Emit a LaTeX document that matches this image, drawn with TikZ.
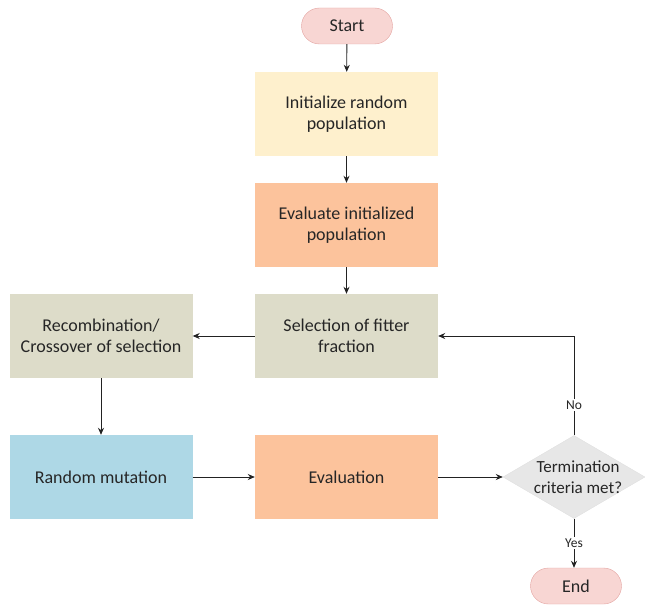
\documentclass[tikz,border=0pt]{standalone}
\usepackage{fontspec}
\setmainfont{Carlito}
\usetikzlibrary{shapes.geometric,shapes.misc,arrows.meta}
\definecolor{pinkfill}{HTML}{F8D6D3}
\definecolor{pinkline}{HTML}{E3A3A0}
\definecolor{yellowfill}{HTML}{FEF0CD}
\definecolor{orangefill}{HTML}{FCC39C}
\definecolor{khakifill}{HTML}{DDDCC9}
\definecolor{bluefill}{HTML}{AED8E6}
\definecolor{grayfill}{HTML}{E7E7E7}
\definecolor{linecol}{HTML}{222222}
\definecolor{textcol}{HTML}{262626}
\begin{document}
\begin{tikzpicture}[x=1pt,y=-1pt,
  every node/.style={font=\fontsize{18}{21.5}\selectfont, text=textcol},
  box/.style={rectangle, minimum width=183pt, minimum height=84pt, align=center, inner sep=0pt},
  term/.style={rounded rectangle, draw=pinkline, fill=pinkfill, minimum width=91pt, minimum height=36pt, inner sep=0pt},
  decision/.style={diamond, fill=grayfill, draw=white!88!black, minimum width=142pt, minimum height=83pt, inner sep=0pt},
  dtext/.style={align=center, font=\fontsize{17}{21}\selectfont, inner sep=0pt},
  conn/.style={draw=linecol, line width=0.8pt, -{Stealth[length=7pt,width=6pt]}},
  lbl/.style={fill=white, font=\fontsize{13.5}{16}\selectfont, inner sep=1.5pt}]
\useasboundingbox (0,0) rectangle (645,607);
\node[term] (start) at (347,26) {Start};
\node[box, fill=yellowfill] (init) at (346.5,114) {Initialize random\\population};
\node[box, fill=orangefill] (evalinit) at (346.5,225) {Evaluate initialized\\population};
\node[box, fill=khakifill] (select) at (346.5,336) {Selection of fitter\\fraction};
\node[box, fill=khakifill] (recomb) at (101,336) {Recombination/\\Crossover of selection};
\node[box, fill=bluefill] (mutate) at (101,477) {Random mutation};
\node[box, fill=orangefill] (evaluation) at (346.5,477) {Evaluation};
\node[decision] (term) at (574,477) {};
\node[dtext] (termtext) at (578,477) {Termination\\criteria met?};
\node[term] (end) at (576,586) {End};
\coordinate (corner) at (term.north |- select.east);
\draw[conn] (start) -- (init);
\draw[conn] (init) -- (evalinit);
\draw[conn] (evalinit) -- (select);
\draw[conn] (select) -- (recomb);
\draw[conn] (recomb) -- (mutate);
\draw[conn] (mutate) -- (evaluation);
\draw[conn] (evaluation) -- (term.west);
\draw[conn] (term.north) -- (corner) -- (select.east);
\draw[conn] (term.south) -- (term.south |- end.north);
\node[lbl] (nolbl) at (574,405) {No};
\node[lbl] (yeslbl) at (574,543) {Yes};
\end{tikzpicture}
\end{document}
